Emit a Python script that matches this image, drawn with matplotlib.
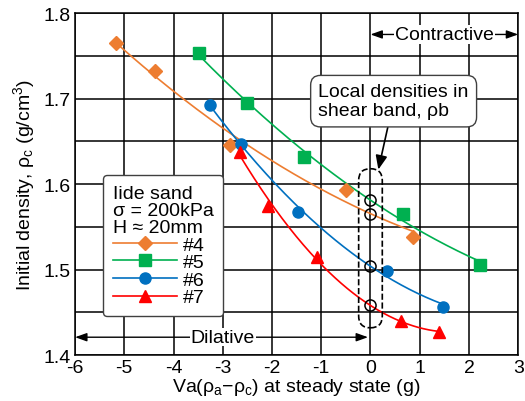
import numpy as np
import matplotlib
matplotlib.use('Agg')
import matplotlib.pyplot as plt
from matplotlib.patches import FancyBboxPatch

plt.rcParams['font.family'] = ['Liberation Sans', 'DejaVu Sans']
plt.rcParams['mathtext.fontset'] = 'custom'
plt.rcParams['mathtext.rm'] = 'Liberation Sans'
plt.rcParams['mathtext.it'] = 'Liberation Sans'

# mass change Va(rho_a - rho_c) at steady state (g) vs initial density (g/cm3)
x4 = [-5.17, -4.37, -2.85, -0.49, 0.87]
y4 = [1.765, 1.732, 1.646, 1.593, 1.538]
x5 = [-3.48, -2.50, -1.35, 0.67, 2.23]
y5 = [1.753, 1.695, 1.632, 1.565, 1.506]
x6 = [-3.26, -2.63, -1.47, 0.34, 1.48]
y6 = [1.693, 1.647, 1.567, 1.499, 1.456]
x7 = [-2.65, -2.08, -1.08, 0.61, 1.40]
y7 = [1.638, 1.574, 1.515, 1.440, 1.427]

series = [
    ('#4', x4, y4, '#ED7D31', 'D', 7),
    ('#5', x5, y5, '#00B050', 's', 8),
    ('#6', x6, y6, '#0070C0', 'o', 8),
    ('#7', x7, y7, '#FF0000', '^', 9),
]

xticks = [-6, -5, -4, -3, -2, -1, 0, 1, 2, 3]
ygrid = [1.40, 1.45, 1.50, 1.55, 1.60, 1.65, 1.70, 1.75, 1.80]

FS = 14

fig = plt.figure(figsize=(5.25, 4.02), dpi=100)
ax = fig.add_axes([0.143, 0.114, 0.844, 0.851])

handles = []
rho_b = []
for name, xs, ys, col, mk, ms in series:
    xs = np.array(xs); ys = np.array(ys)
    p = np.polyfit(xs, ys, 2)
    xf = np.linspace(xs.min(), xs.max(), 200)
    ax.plot(xf, np.polyval(p, xf), color=col, lw=1.2, zorder=3)
    ax.plot(xs, ys, ls='none', marker=mk, ms=ms, color=col, mec=col, zorder=4)
    h, = ax.plot([], [], color=col, lw=1.2, marker=mk, ms=ms, label=name)
    handles.append(h)
    rho_b.append(np.polyval(p, 0.0))

# densities in the shear band, taken off each trend line at zero mass change
ax.plot([0] * len(rho_b), rho_b, ls='none', marker='o', ms=8, mfc='none',
        mec='black', mew=1.1, zorder=5)

# dashed capsule around the x=0 points
sx = 443 / 9.0
sy = 342 / 0.4
cap = FancyBboxPatch((-0.24, 1.432), 0.48, 0.186,
                     boxstyle='round,pad=0,rounding_size=0.24',
                     mutation_aspect=sx / sy,
                     fc='none', ec='black', ls='--', lw=1.2, zorder=5)
ax.add_patch(cap)

ax.set_xlim(-6, 3)
ax.set_ylim(1.4, 1.8)
ax.set_xticks(xticks)
ax.set_xticklabels([str(v) for v in xticks])
ax.set_yticks(ygrid)
ax.set_yticklabels(['%.1f' % v if round(v * 100) % 10 == 0 else '' for v in ygrid])
ax.grid(True, color='black', lw=1.1)
ax.tick_params(length=0, labelsize=FS, pad=3)
for s in ax.spines.values():
    s.set_linewidth(1.1)

ax.set_xlabel(r'Va($\mathrm{\rho_a}$$-$$\mathrm{\rho_c}$) at steady state (g)',
              fontsize=FS, labelpad=0)
ax.set_ylabel(r'Initial density, $\mathrm{\rho_c}$ (g/cm$^3$)', fontsize=FS, labelpad=5)

# contractive / dilative arrows
ax.annotate('', xy=(0, 1.775), xytext=(3, 1.775),
            arrowprops=dict(arrowstyle='<|-|>,head_length=0.7,head_width=0.25',
                            color='black', lw=1.0, shrinkA=0, shrinkB=0), zorder=6)
ax.text(1.5, 1.775, 'Contractive', ha='center', va='center', fontsize=FS,
        bbox=dict(fc='white', ec='none', pad=0.5), zorder=7)
ax.annotate('', xy=(-6, 1.421), xytext=(-0.05, 1.421),
            arrowprops=dict(arrowstyle='<|-|>,head_length=0.7,head_width=0.25',
                            color='black', lw=1.0, shrinkA=0, shrinkB=0), zorder=6)
ax.text(-3.0, 1.421, 'Dilative', ha='center', va='center', fontsize=FS,
        bbox=dict(fc='white', ec='none', pad=0.5), zorder=7)

# callout for the shear band points
ax.annotate('Local densities in\nshear band, ρb', xy=(0.16, 1.617), xytext=(0.47, 1.697),
            ha='center', va='center', multialignment='left', fontsize=FS, linespacing=1.15,
            bbox=dict(boxstyle='round,pad=0.4,rounding_size=0.5', fc='white', ec='#404040', lw=1.0),
            arrowprops=dict(arrowstyle='-|>,head_length=0.6,head_width=0.25',
                            color='black', lw=1.2, shrinkA=0, shrinkB=0), zorder=8)

leg = ax.legend(handles=handles, title='Iide sand\nσ = 200kPa\nH ≈ 20mm',
                loc='lower left', bbox_to_anchor=(0.063, 0.114), borderaxespad=0,
                fontsize=FS, title_fontsize=FS, alignment='left',
                handlelength=3.3, handletextpad=0.3, labelspacing=0.0,
                borderpad=0.5, framealpha=1, edgecolor='#404040', fancybox=True)
leg.get_frame().set_linewidth(1.0)
leg.get_title().set_linespacing(1.0)
leg.set_zorder(9)

fig.savefig('out.png', dpi=100)
